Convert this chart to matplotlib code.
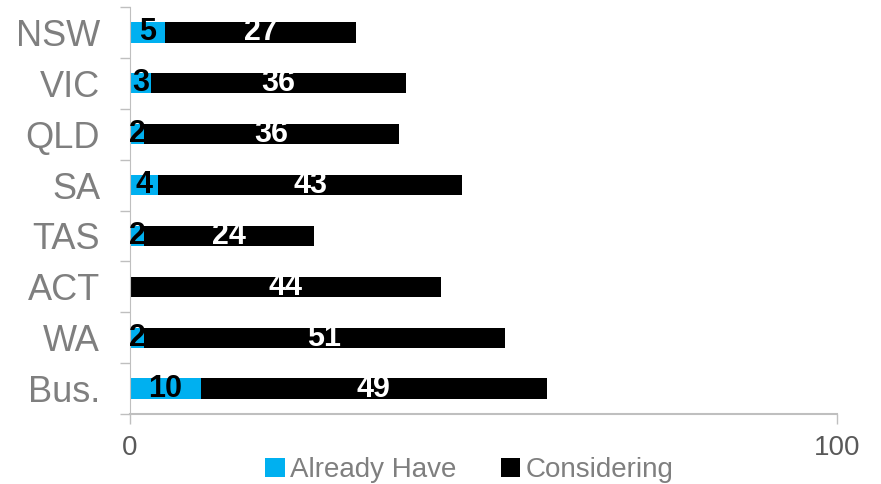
import matplotlib.pyplot as plt
import numpy as np

plt.rcParams['font.family'] = ['Liberation Sans', 'DejaVu Sans']

regions = ["NSW", "VIC", "QLD", "SA", "TAS", "ACT", "WA", "Bus."]
already_have = [5, 3, 2, 4, 2, 0, 2, 10]
considering = [27, 36, 36, 43, 24, 44, 51, 49]

blue = "#00B0F0"
axis_grey = "#BFBFBF"

fig = plt.figure(figsize=(8.81, 4.84), dpi=100)
ax = fig.add_axes([130 / 881, 1 - 414 / 484, (837 - 130) / 881, (414 - 7) / 484])

y = np.arange(len(regions))
ax.barh(y, already_have, height=0.4, color=blue, label="Already Have")
ax.barh(y, considering, left=already_have, height=0.4, color="black", label="Considering")

# value labels in the middle of each segment
for i in range(len(regions)):
    if already_have[i] > 0:
        ax.text(already_have[i] / 2, y[i], str(already_have[i]), ha="center", va="center",
                color="black", fontsize=22, fontweight="bold")
    ax.text(already_have[i] + considering[i] / 2, y[i], str(considering[i]), ha="center",
            va="center", color="white", fontsize=22, fontweight="bold")

ax.set_xlim(0, 100)
ax.set_ylim(len(regions) - 0.5, -0.5)

# category names sit between the boundary ticks
ax.set_yticks(y)
ax.set_yticklabels(regions, fontsize=26, color="#7F7F7F")
ax.tick_params(axis="y", which="major", length=0, pad=21.5)
ax.set_yticks(np.arange(-0.5, len(regions)), minor=True)
ax.tick_params(axis="y", which="minor", length=7, color=axis_grey, width=1)

ax.set_xticks([0, 100])
ax.set_xticklabels(["0", "100"], fontsize=20, color="#595959")
ax.tick_params(axis="x", length=7, color=axis_grey, width=1, pad=8)

for side in ["top", "right"]:
    ax.spines[side].set_visible(False)
ax.spines["left"].set_color(axis_grey)
ax.spines["bottom"].set_color(axis_grey)
ax.spines["bottom"].set_linewidth(1.5)

leg = fig.legend(loc="lower center", bbox_to_anchor=(0.533, -0.05), ncol=2, frameon=False,
                 fontsize=20, handlelength=0.7, handleheight=0.7, handletextpad=0.2,
                 columnspacing=1.6)
for t in leg.get_texts():
    t.set_color("#7F7F7F")

fig.savefig("out.png", dpi=100)
